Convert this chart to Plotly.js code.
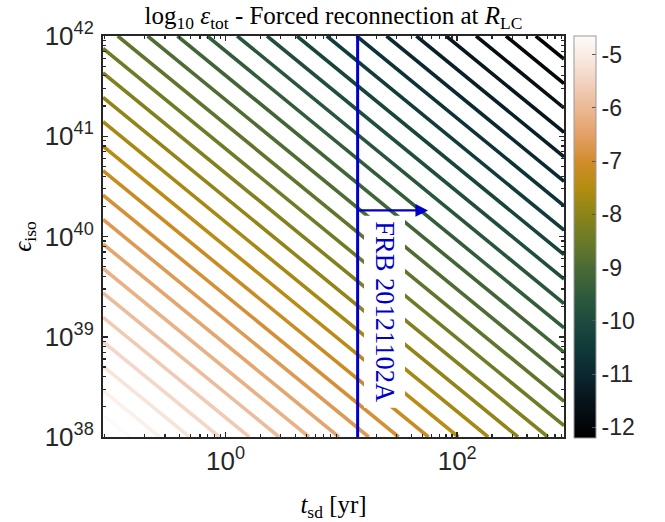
<!DOCTYPE html>
<html><head><meta charset="utf-8">
<script src="https://cdn.plot.ly/plotly-3.0.1.min.js"></script>
<style>html,body{margin:0;padding:0;background:#fff;} #chart{width:665px;height:522px;}</style>
</head><body><div id="chart"></div>
<script>
// ---- data ----
// corner values of the log10(eps_tot) field (field is planar in log-log space)
const tCorners = [0.0873, 836];            // t_sd [yr]
const eCorners = [1e38, 1e42];             // eps_iso
const zCorners = [[-4.64, -8.30],          // row at eps_iso = 1e38
                  [-8.53, -12.19]];        // row at eps_iso = 1e42
const levelStart = -11.966;
const levelEnd = -4.853;
const levelStep = 0.2371;
const zMin = -12.19, zMax = -4.64;

const tFRB = 13.8;           // FRB 20121102A marker [yr]
const arrowHeadT = 56;       // arrow tip [yr]
const arrowE = 1.82e40;      // arrow height
const frbLabel = 'FRB 20121102A';

const xTickVals = [1, 100];
const xTickText = ['10<sup>0</sup>', '10<sup>2</sup>'];
const yTickVals = [1e38, 1e39, 1e40, 1e41, 1e42];
const yTickText = ['10<sup>38</sup>', '10<sup>39</sup>', '10<sup>40</sup>', '10<sup>41</sup>', '10<sup>42</sup>'];
const cbTickVals = [-12, -11, -10, -9, -8, -7, -6, -5];
const cbTickText = ['-12', '-11', '-10', '-9', '-8', '-7', '-6', '-5'];

const cmapValues = [-12.19, -11.5, -11, -10.5, -10, -9.5, -9, -8.5, -8, -7.5, -7, -6.5, -6, -5.5, -5, -4.64];
const cmapColors = ['#000000', '#07131a', '#0b2730', '#0f3939', '#1c4b3e', '#2f5b3b', '#4a6a34', '#6b7a28',
                    '#8b8419', '#b38c10', '#d28c2c', '#e4a066', '#ebb894', '#f2d2c0', '#f9ece4', '#fdfbfa'];

// ---- build ----
const colorscale = cmapValues.map((v, i) => [(v - zMin) / (zMax - zMin), cmapColors[i]]);
colorscale[0][0] = 0; colorscale[colorscale.length - 1][0] = 1;

function minorTicks(lo, hi) {
  const out = [];
  for (let d = lo; d < hi; d++) for (let m = 2; m <= 9; m++) out.push(m * Math.pow(10, d));
  return out;
}

const axisColor = '#262626';
const sans = 'Liberation Sans, Arial, Helvetica, sans-serif';
const serif = 'Liberation Serif, Times New Roman, serif';
const blue = '#0000c8';

const contour = {
  type: 'contour',
  x: tCorners, y: eCorners, z: zCorners,
  zmin: zMin, zmax: zMax, zauto: false,
  colorscale: colorscale,
  autocontour: false,
  contours: {start: levelStart, end: levelEnd, size: levelStep, coloring: 'lines', showlabels: false},
  line: {width: 3.6, smoothing: 0},
  showscale: false,
  hoverinfo: 'skip'
};

const cbTrace = {
  type: 'scatter', mode: 'markers',
  x: [null, null], y: [null, null],
  marker: {
    color: [zMin, zMax], cmin: zMin, cmax: zMax, colorscale: colorscale, showscale: true,
    colorbar: {
      x: 1.0217, xanchor: 'left', xpad: 0, ypad: 0,
      y: 0.5, yanchor: 'middle',
      thickness: 22, thicknessmode: 'pixels',
      len: 402, lenmode: 'pixels',
      outlinewidth: 1, outlinecolor: '#9a9a9a',
      tickmode: 'array', tickvals: cbTickVals, ticktext: cbTickText,
      ticks: 'inside', ticklen: 4, tickwidth: 1, tickcolor: '#555',
      tickfont: {family: sans, size: 23, color: axisColor}
    }
  },
  hoverinfo: 'skip', showlegend: false
};

const layout = {
  width: 665, height: 522,
  margin: {l: 103, r: 101, t: 36, b: 85},
  paper_bgcolor: '#fff', plot_bgcolor: '#fff',
  showlegend: false,
  title: {
    text: 'log<sub>10</sub> <i>ε</i><sub>tot</sub> - Forced reconnection at <i>R</i><sub>LC</sub>',
    font: {family: serif, size: 25, color: '#000'},
    x: 0.5, xref: 'paper', xanchor: 'center',
    y: 1, yref: 'paper', yanchor: 'bottom', pad: {b: 12}
  },
  xaxis: {
    type: 'log', range: [-1.059, 2.922],
    tickmode: 'array', tickvals: xTickVals, ticktext: xTickText,
    ticks: 'inside', ticklen: 5, tickwidth: 1.5, tickcolor: axisColor,
    minor: {tickmode: 'array', tickvals: minorTicks(-2, 3), ticks: 'inside', ticklen: 3, tickwidth: 1.2, tickcolor: axisColor, showgrid: false},
    showline: true, linecolor: axisColor, linewidth: 2, mirror: 'ticks',
    showgrid: false, zeroline: false,
    tickfont: {family: sans, size: 26, color: axisColor},
    title: {text: '<i>t</i><sub>sd</sub> [yr]', font: {family: serif, size: 25, color: '#000'}, standoff: 24},
    automargin: false
  },
  yaxis: {
    type: 'log', range: [38, 42],
    tickmode: 'array', tickvals: yTickVals, ticktext: yTickText,
    ticks: 'inside', ticklen: 5, tickwidth: 1.5, tickcolor: axisColor,
    minor: {tickmode: 'array', tickvals: minorTicks(38, 42), ticks: 'inside', ticklen: 3, tickwidth: 1.2, tickcolor: axisColor, showgrid: false},
    showline: true, linecolor: axisColor, linewidth: 2, mirror: 'ticks',
    showgrid: false, zeroline: false,
    tickfont: {family: sans, size: 26, color: axisColor},
    ticklabelstandoff: 2,
    title: {text: '<i>ϵ</i><sub>iso</sub>', font: {family: serif, size: 25, color: '#000'}, standoff: 6},
    automargin: false
  },
  shapes: [{
    type: 'line', xref: 'x', yref: 'paper', x0: tFRB, x1: tFRB, y0: 0, y1: 1,
    line: {color: blue, width: 3}, layer: 'above'
  }],
  annotations: [
    {
      xref: 'x', yref: 'paper', x: Math.log10(tFRB), y: 0.312, xshift: 27,
      xanchor: 'center', yanchor: 'middle',
      text: frbLabel, textangle: 90, showarrow: false,
      font: {family: serif, size: 26.5, color: blue},
      bgcolor: '#ffffff', borderpad: 5
    },
    {
      xref: 'x', yref: 'y', x: Math.log10(arrowHeadT), y: Math.log10(arrowE),
      axref: 'x', ayref: 'y', ax: Math.log10(tFRB), ay: Math.log10(arrowE),
      text: '', showarrow: true, arrowhead: 2, arrowsize: 1.1, arrowwidth: 2.3, arrowcolor: blue,
      standoff: 0, startstandoff: 0
    }
  ]
};

Plotly.newPlot('chart', [contour, cbTrace], layout, {displayModeBar: false, staticPlot: true});
</script></body></html>
